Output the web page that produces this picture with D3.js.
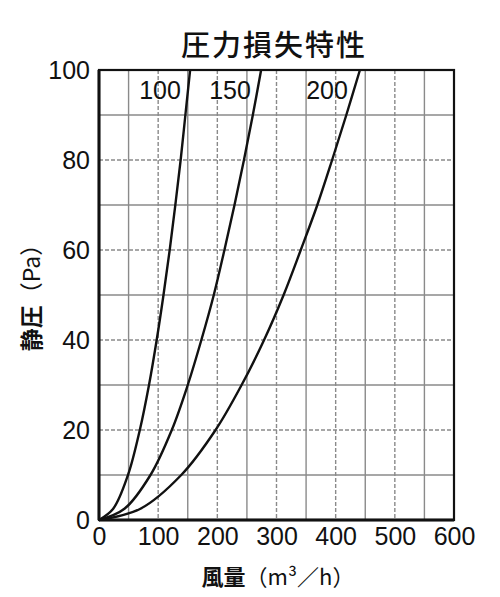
<!DOCTYPE html>
<html><head><meta charset="utf-8">
<script src="https://cdn.jsdelivr.net/npm/d3@7"></script>
<style>
html,body{margin:0;padding:0;background:#fff;}
svg{display:block;}
text{font-family:"Liberation Sans",Arial,"Noto Sans CJK JP",sans-serif;fill:#111;}
</style></head>
<body>
<svg id="chart" width="500" height="597"></svg>
<script>
// ---- data ----
const title = "圧力損失特性";
const xLabel = "風量（m³／h）";
const yLabel = "静圧（Pa）";
const xTicks = [0, 100, 200, 300, 400, 500, 600];
const yTicks = [0, 20, 40, 60, 80, 100];
const xGrid = [50, 100, 150, 200, 250, 300, 350, 400, 450, 500, 550];
const yGrid = [10, 20, 30, 40, 50, 60, 70, 80, 90];
const seriesNames = ["100", "150", "200"];
const pressure = [0, 2.5, 10, 20, 30, 40, 50, 60, 70, 80, 90, 100];
const flow100 = [0, 24, 49, 69, 84.5, 97.5, 109, 119.5, 129, 138, 146, 154];
const flow150 = [0, 43, 87, 123, 150, 173, 194, 212, 229, 245, 260, 274];
const flow200 = [0, 70, 139, 197, 241, 279, 312, 341, 369, 394, 418, 441];
const flows = [flow100, flow150, flow200];

// ---- layout ----
const svg = d3.select("#chart");
const L = 99, R = 454, T = 70, B = 520;
const x = d3.scaleLinear().domain([0, 600]).range([L, R]);
const y = d3.scaleLinear().domain([0, 100]).range([B, T]);

// grid
const g = svg.append("g");
g.selectAll("line.vg").data(xGrid).enter().append("line")
  .attr("x1", d => x(d)).attr("x2", d => x(d)).attr("y1", T).attr("y2", B)
  .attr("stroke", "#8a8a8a").attr("stroke-width", 1.4)
  .attr("stroke-dasharray", d => d % 100 === 0 ? "4,2" : null);
g.selectAll("line.hg").data(yGrid).enter().append("line")
  .attr("x1", L).attr("x2", R).attr("y1", d => y(d)).attr("y2", d => y(d))
  .attr("stroke", "#8a8a8a").attr("stroke-width", 1.4)
  .attr("stroke-dasharray", d => d % 20 === 0 ? "4,2" : null);

// curves
const line = d3.line().x(d => x(d[0])).y(d => y(d[1])).curve(d3.curveCatmullRom.alpha(0.5));
flows.forEach(f => {
  svg.append("path").datum(f.map((q, i) => [q, pressure[i]]))
    .attr("d", line).attr("fill", "none").attr("stroke", "#111").attr("stroke-width", 2.4);
});

// frame
svg.append("rect").attr("x", L).attr("y", T).attr("width", R - L).attr("height", B - T)
  .attr("fill", "none").attr("stroke", "#111").attr("stroke-width", 2.2);
svg.append("line").attr("x1", L).attr("x2", R).attr("y1", B).attr("y2", B)
  .attr("stroke", "#111").attr("stroke-width", 3);
svg.append("line").attr("x1", L).attr("x2", L).attr("y1", T).attr("y2", B)
  .attr("stroke", "#111").attr("stroke-width", 3);

// axes
const xAxis = svg.append("g").attr("transform", `translate(0,${B})`)
  .call(d3.axisBottom(x).tickValues(xTicks).tickSize(0).tickPadding(7).tickFormat(d3.format("d")));
xAxis.select(".domain").remove();
xAxis.selectAll("text").attr("font-size", 25).attr("dy", "0.71em")
  .style("font-family", '"Liberation Sans",Arial,sans-serif').attr("fill", "#111");
const yAxis = svg.append("g").attr("transform", `translate(${L},0)`)
  .call(d3.axisLeft(y).tickValues(yTicks).tickSize(0).tickPadding(9).tickFormat(d3.format("d")));
yAxis.select(".domain").remove();
yAxis.selectAll("text").attr("font-size", 25)
  .style("font-family", '"Liberation Sans",Arial,sans-serif').attr("fill", "#111");

// series labels
const labelX = [160, 230, 327];
seriesNames.forEach((s, i) => {
  svg.append("text").attr("x", labelX[i]).attr("y", 99).attr("text-anchor", "middle")
    .attr("font-size", 25).text(s);
});

// title and axis labels
svg.append("text").attr("x", 274).attr("y", 56).attr("text-anchor", "middle")
  .attr("font-size", 29).attr("font-weight", 500).style("font-family", '"Noto Sans CJK JP",sans-serif')
  .attr("letter-spacing", 2).text(title);

function mixedLabel(sel, str) {
  sel.append("tspan").attr("font-weight", "bold").text(str.slice(0, 2));
  sel.append("tspan").attr("font-weight", "normal").text(str.slice(2));
}
const xl = svg.append("text").attr("x", 278).attr("y", 585).attr("text-anchor", "middle")
  .attr("font-size", 22).style("font-family", '"Noto Sans CJK JP",sans-serif');
mixedLabel(xl, xLabel);
const yl = svg.append("text").attr("transform", "translate(40,292) rotate(-90)").attr("text-anchor", "middle")
  .attr("font-size", 23).style("font-family", '"Noto Sans CJK JP",sans-serif');
mixedLabel(yl, yLabel);
</script>
</body></html>
